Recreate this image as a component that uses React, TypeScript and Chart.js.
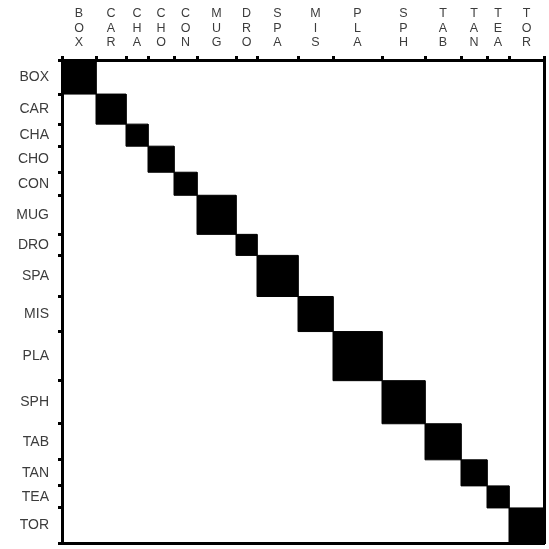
import React, { useEffect, useRef } from "react";
import { Chart, registerables } from "chart.js";

Chart.register(...registerables);

const categories = ["BOX", "CAR", "CHA", "CHO", "CON", "MUG", "DRO", "SPA", "MIS", "PLA", "SPH", "TAB", "TAN", "TEA", "TOR"];
const blockSizes = [34, 30, 22, 26, 23, 39, 21, 41, 35, 49, 43, 36, 26, 22, 35];

const boundaries: number[] = [0];
blockSizes.forEach((s) => boundaries.push(boundaries[boundaries.length - 1] + s));
const centers: number[] = blockSizes.map((s, i) => boundaries[i] + s / 2);
const total = boundaries[boundaries.length - 1];

const FAMILY = "'Liberation Sans', Arial, sans-serif";
const TOP_FONT = { family: FAMILY, size: 12.5, lineHeight: 1.17 };
const LEFT_FONT = { family: FAMILY, size: 14 };
const TEXT = "#3c3c3c";

export default function App() {
  const ref = useRef<HTMLCanvasElement | null>(null);
  useEffect(() => {
    if (!ref.current) return;
    const datasets = categories.map((c, i) => {
      const a = boundaries[i];
      const b = boundaries[i + 1];
      return {
        label: c,
        data: [
          { x: a, y: a },
          { x: b, y: a },
          { x: b, y: b },
          { x: a, y: b },
          { x: a, y: a },
        ],
        showLine: true,
        fill: "shape" as any,
        backgroundColor: "#000",
        borderColor: "#000",
        borderWidth: 1,
        pointRadius: 0,
        tension: 0,
        xAxisID: "x",
        yAxisID: "y",
      };
    });
    const boundaryTicks = (scale: any) => {
      scale.ticks = boundaries.map((v) => ({ value: v }));
    };
    const centerTicks = (scale: any) => {
      scale.ticks = centers.map((v) => ({ value: v }));
    };
    const noPad = (s: any) => {
      s.paddingTop = 0;
      s.paddingBottom = 0;
      s.paddingLeft = 0;
      s.paddingRight = 0;
    };
    const chart = new Chart(ref.current, {
      type: "scatter",
      data: { datasets: datasets as any },
      options: {
        animation: false,
        responsive: true,
        maintainAspectRatio: false,
        layout: { padding: { left: 0, top: 0, right: 5, bottom: 6 } },
        plugins: { legend: { display: false }, tooltip: { enabled: false } },
        scales: {
          x: {
            type: "linear",
            position: "top",
            min: 0,
            max: total,
            weight: 0,
            afterBuildTicks: boundaryTicks,
            afterFit: noPad,
            ticks: { display: false },
            grid: { drawOnChartArea: false, tickLength: 4, tickWidth: 3, color: "#000" },
            border: { display: true, width: 3, color: "#000" },
          },
          xl: {
            type: "linear",
            position: "top",
            min: 0,
            max: total,
            weight: 1,
            afterBuildTicks: centerTicks,
            afterFit: (s: any) => {
              noPad(s);
              s.height = 56;
            },
            ticks: {
              autoSkip: false,
              maxRotation: 0,
              minRotation: 0,
              padding: 6,
              color: TEXT,
              font: TOP_FONT,
              callback: (_v: any, i: number) => categories[i].split(""),
            },
            grid: { display: false, drawTicks: false },
            border: { display: false },
          },
          xb: {
            type: "linear",
            position: "bottom",
            min: 0,
            max: total,
            afterFit: noPad,
            ticks: { display: false },
            grid: { display: false, drawTicks: false },
            border: { display: true, width: 3, color: "#000" },
          },
          y: {
            type: "linear",
            position: "left",
            reverse: true,
            min: 0,
            max: total,
            weight: 0,
            afterBuildTicks: boundaryTicks,
            afterFit: noPad,
            ticks: { display: false },
            grid: { drawOnChartArea: false, tickLength: 4, tickWidth: 3, color: "#000" },
            border: { display: true, width: 3, color: "#000" },
          },
          yl: {
            type: "linear",
            position: "left",
            reverse: true,
            min: 0,
            max: total,
            weight: 1,
            afterBuildTicks: centerTicks,
            afterFit: (s: any) => {
              noPad(s);
              s.width = 58;
            },
            ticks: {
              autoSkip: false,
              padding: 9,
              color: TEXT,
              font: LEFT_FONT,
              callback: (_v: any, i: number) => categories[i],
            },
            grid: { display: false, drawTicks: false },
            border: { display: false },
          },
          yr: {
            type: "linear",
            position: "right",
            reverse: true,
            min: 0,
            max: total,
            afterFit: noPad,
            ticks: { display: false },
            grid: { display: false, drawTicks: false },
            border: { display: true, width: 3, color: "#000" },
          },
        },
      },
    });
    return () => chart.destroy();
  }, []);
  return (
    <div style={{ position: "fixed", left: 0, top: 0, width: 549, height: 549, background: "#fff" }}>
      <canvas ref={ref} />
    </div>
  );
}
